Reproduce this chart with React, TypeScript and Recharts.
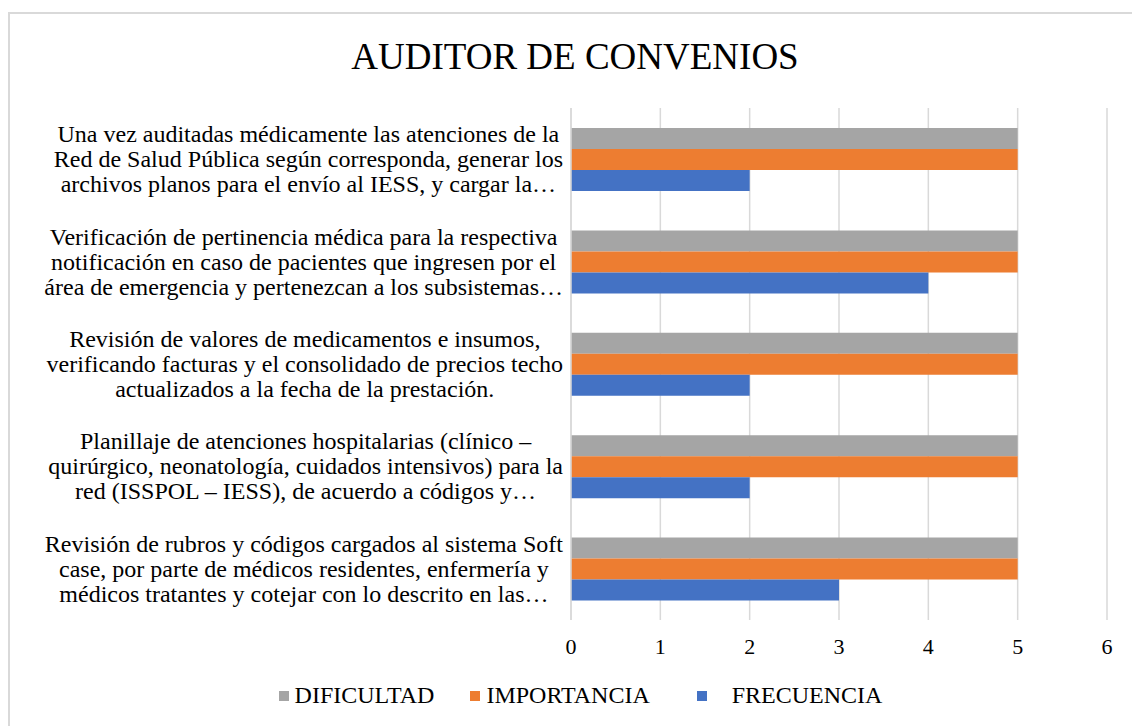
import React from 'react';
import { BarChart, Bar, XAxis, YAxis, CartesianGrid, Legend } from 'recharts';

const categories = [
  'Una vez auditadas médicamente las atenciones de la\nRed de Salud Pública según corresponda, generar los\narchivos planos para el envío al IESS, y cargar la…',
  'Verificación de pertinencia médica para la respectiva\nnotificación en caso de pacientes que ingresen por el\nárea de emergencia y pertenezcan a los subsistemas…',
  'Revisión de valores de medicamentos e insumos,\nverificando facturas y el consolidado de precios techo\nactualizados a la fecha de la prestación.',
  'Planillaje de atenciones hospitalarias (clínico –\nquirúrgico, neonatología, cuidados intensivos) para la\nred (ISSPOL – IESS), de acuerdo a códigos y…',
  'Revisión de rubros y códigos cargados al sistema Soft\ncase, por parte de médicos residentes, enfermería y\nmédicos tratantes y cotejar con lo descrito en las…',
];
const dificultad = [5, 5, 5, 5, 5];
const importancia = [5, 5, 5, 5, 5];
const frecuencia = [2, 4, 2, 2, 3];
const xTicks = [0, 1, 2, 3, 4, 5, 6];

const seriesNames = ['DIFICULTAD', 'IMPORTANCIA', 'FRECUENCIA'];
const seriesColors = ['#A5A5A5', '#ED7D31', '#4472C4'];

const chartData = categories.map((c, i) => ({
  name: c,
  dificultad: dificultad[i],
  importancia: importancia[i],
  frecuencia: frecuencia[i],
}));

const FONT = '"Liberation Serif", "Times New Roman", serif';
const LABEL_SIZE = 24;
const LINE_H = 25;

let ctx: CanvasRenderingContext2D | null = null;
const measure = (s: string) => {
  if (!ctx) {
    ctx = document.createElement('canvas').getContext('2d');
  }
  if (!ctx) return s.length * 10;
  ctx.font = `${LABEL_SIZE}px "Liberation Serif"`;
  return ctx.measureText(s).width;
};

// multi-line category label: block right aligned, lines centered inside it
const CategoryTick = (props: any) => {
  const { x, y, payload } = props;
  const lines: string[] = String(payload.value).split('\n');
  const maxW = Math.max(...lines.map(measure));
  const cx = x - maxW / 2;
  return (
    <g>
      {lines.map((l, i) => (
        <text
          key={i}
          x={cx}
          y={y + (i - (lines.length - 1) / 2) * LINE_H}
          textAnchor="middle"
          dominantBaseline="central"
          fontFamily={FONT}
          fontSize={LABEL_SIZE}
          fill="#000"
        >
          {l}
        </text>
      ))}
    </g>
  );
};

const renderLegend = () => (
  <div
    style={{
      display: 'flex',
      alignItems: 'center',
      justifyContent: 'center',
      fontFamily: FONT,
      fontSize: 24,
      color: '#000',
      paddingLeft: 29,
    }}
  >
    {seriesNames.map((n, i) => (
      <div key={n} style={{ display: 'flex', alignItems: 'center', marginRight: i === 0 ? 36 : i === 1 ? 47 : 0 }}>
        <span style={{ width: 10, height: 10, background: seriesColors[i], marginRight: i === 2 ? 25 : 6 }} />
        <span>{n}</span>
      </div>
    ))}
  </div>
);

export default function App() {
  return (
    <div
      style={{
        position: 'absolute',
        left: 0,
        top: 0,
        width: 1132,
        height: 726,
        overflow: 'hidden',
        background: '#fff',
      }}
    >
      <div
        style={{
          position: 'absolute',
          left: 8,
          top: 12,
          width: 1160,
          height: 760,
          border: '2px solid #d9d9d9',
        }}
      />
      <div
        style={{
          position: 'absolute',
          left: 0,
          width: 1150,
          top: 35,
          textAlign: 'center',
          fontFamily: FONT,
          fontSize: 37,
          color: '#000',
        }}
      >
        AUDITOR DE CONVENIOS
      </div>
      <div style={{ position: 'absolute', left: 0, top: 0 }}>
        <BarChart
          width={1132}
          height={726}
          data={chartData}
          layout="vertical"
          margin={{ top: 108, right: 25, bottom: 66, left: 0 }}
          barSize={21}
          barGap={0}
        >
          <CartesianGrid horizontal={false} stroke="#d9d9d9" strokeWidth={1.5} />
          <XAxis
            type="number"
            domain={[0, 6]}
            ticks={xTicks}
            axisLine={false}
            tickLine={false}
            tickMargin={12}
            height={40}
            tick={{ fontFamily: FONT, fontSize: 22, fill: '#000' }}
          />
          <YAxis
            type="category"
            dataKey="name"
            width={571}
            axisLine={{ stroke: '#d9d9d9', strokeWidth: 1.5 }}
            tickLine={false}
            tickSize={0}
            tickMargin={8}
            interval={0}
            tick={<CategoryTick />}
          />
          <Legend
            verticalAlign="middle"
            layout="horizontal"
            content={renderLegend}
            wrapperStyle={{ position: 'absolute', top: 682, left: 0, width: 1132 }}
          />
          <Bar dataKey="dificultad" name={seriesNames[0]} fill={seriesColors[0]} isAnimationActive={false} />
          <Bar dataKey="importancia" name={seriesNames[1]} fill={seriesColors[1]} isAnimationActive={false} />
          <Bar dataKey="frecuencia" name={seriesNames[2]} fill={seriesColors[2]} isAnimationActive={false} />
        </BarChart>
      </div>
    </div>
  );
}
